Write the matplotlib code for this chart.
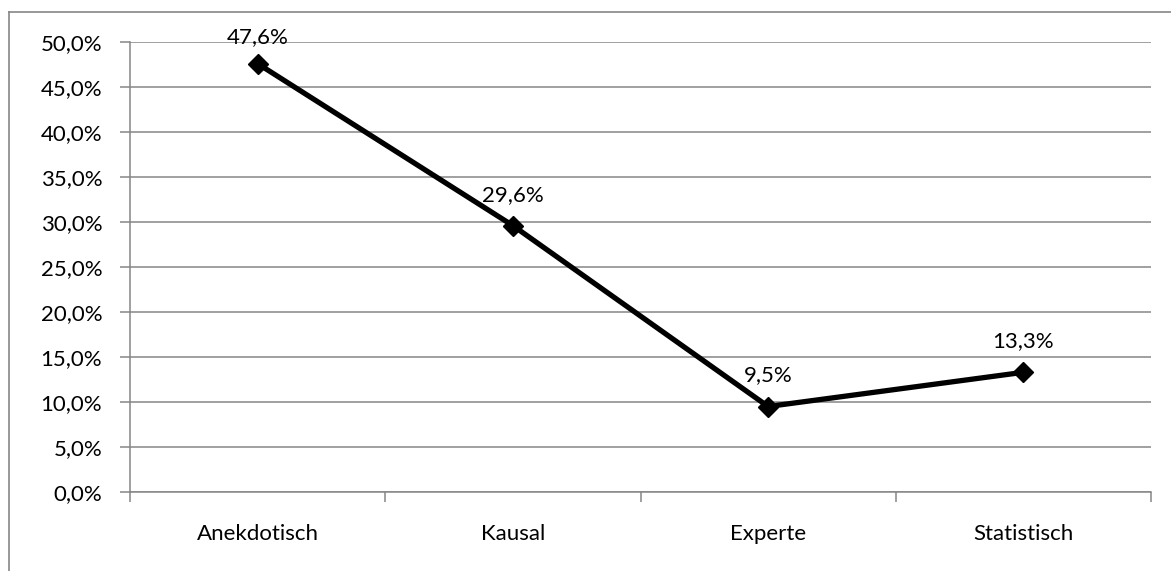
import matplotlib
matplotlib.use("Agg")
import matplotlib.pyplot as plt
from matplotlib.lines import Line2D
from matplotlib.ticker import FuncFormatter, FixedLocator

categories = ["Anekdotisch", "Kausal", "Experte", "Statistisch"]
values = [47.6, 29.6, 9.5, 13.3]
labels = ["47,6%", "29,6%", "9,5%", "13,3%"]

plt.rcParams['font.family'] = ['Lato', 'DejaVu Sans']
W, H = 1171, 571
fig = plt.figure(figsize=(W / 100, H / 100), dpi=100)
ax = fig.add_axes([130 / W, 1 - 492 / H, (1151 - 130) / W, (492 - 42) / H])

grid_c = '#868686'
fs = 16
x = list(range(len(categories)))
ax.plot(x, values, color='black', lw=3.8, marker='D', markersize=10, zorder=3, solid_joinstyle='miter')

offsets = [15, 18, 18, 18]
for xi, v, lab, off in zip(x, values, labels, offsets):
    ax.annotate(lab, (xi, v), xytext=(0, off), textcoords='offset points',
                ha='center', va='baseline', fontsize=fs, color='black')

ax.set_xlim(-0.5, len(categories) - 0.5)
ax.set_ylim(0, 50)
ax.set_yticks([i * 5 for i in range(11)])
ax.yaxis.set_major_formatter(FuncFormatter(lambda v, p: f"{v:.1f}%".replace('.', ',')))
ax.yaxis.grid(True, color=grid_c, lw=1.1)
ax.set_axisbelow(True)

ax.xaxis.set_major_locator(FixedLocator([i - 0.5 for i in range(len(categories) + 1)]))
ax.xaxis.set_major_formatter(FuncFormatter(lambda v, p: ""))
ax.xaxis.set_minor_locator(FixedLocator(x))
ax.set_xticklabels(categories, minor=True)
ax.tick_params(axis='x', which='major', length=7, width=1.1, color=grid_c, direction='out')
ax.tick_params(axis='x', which='minor', length=0, pad=23, labelsize=fs)
ax.tick_params(axis='y', which='major', length=7, width=1.1, color=grid_c, direction='out', pad=13, labelsize=fs)

for s in ['top', 'right']:
    ax.spines[s].set_visible(False)
for s in ['left', 'bottom']:
    ax.spines[s].set_color(grid_c)
    ax.spines[s].set_linewidth(1.1)

fig.add_artist(Line2D([9 / W, 9 / W], [0, 1 - 12 / H], transform=fig.transFigure, color=grid_c, lw=1.2))
fig.add_artist(Line2D([9 / W, 1], [1 - 12 / H, 1 - 12 / H], transform=fig.transFigure, color=grid_c, lw=1.2))

fig.savefig("out.png", dpi=100)
